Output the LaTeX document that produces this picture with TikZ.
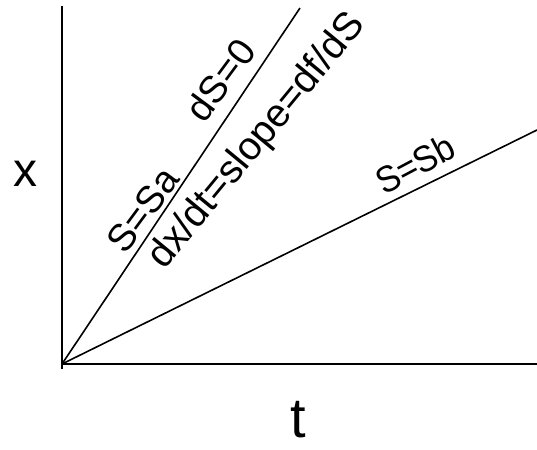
\documentclass[tikz,border=0pt]{standalone}
\usepackage{fontspec}
\setmainfont{Liberation Sans}
\begin{document}
\begin{tikzpicture}[x=1pt,y=-1pt,
  axis/.style={line width=2pt},
  ray/.style={line width=1.6pt},
  lab/.style={font=\fontsize{38}{38}\selectfont, inner sep=0pt},
  big/.style={inner sep=0pt}]
\useasboundingbox (0,0) rectangle (537,449);
\coordinate (O) at (62,364);
\coordinate (Ytop) at (62,6);
\coordinate (Ybot) at (62,369);
\coordinate (Xend) at (537,364);
\coordinate (A) at (300,8);
\coordinate (B) at (537,130);
\draw[axis] (Ybot) -- (Ytop);
\draw[axis] (O) -- (Xend);
\draw[ray] (O) -- (A);
\draw[ray] (O) -- (B);
\node[lab, rotate=53.5] (sa) at (143,210) {S=Sa};
\node[lab, rotate=53.5] (ds) at (220,80) {dS=0};
\node[lab, rotate=50.5, anchor=base west, font=\fontsize{39.5}{39.5}\selectfont] (slope) at (164,271) {dx/dt=slope=df/dS};
\node[lab, rotate=28, xscale=0.92, font=\fontsize{37}{37}\selectfont] (sb) at (415,164) {S=Sb};
\node[big, font=\fontsize{48}{48}\selectfont] (xl) at (25,173.5) {x};
\node[big, font=\fontsize{56}{56}\selectfont] (tl) at (298.5,420) {t};
\end{tikzpicture}
\end{document}
